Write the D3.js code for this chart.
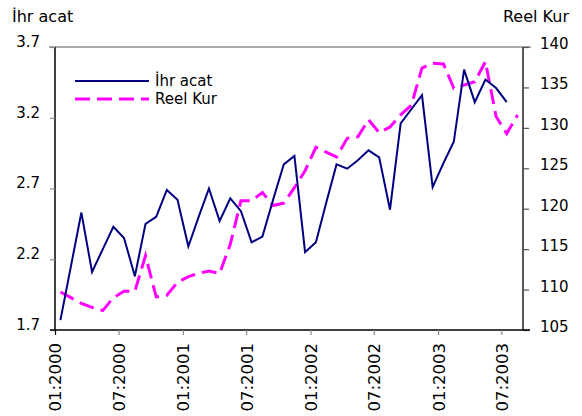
<!DOCTYPE html>
<html>
<head>
<meta charset="utf-8">
<script src="https://cdn.jsdelivr.net/npm/d3@7"></script>
<style>
  html, body { margin: 0; padding: 0; background: #fff; }
  svg { display: block; font-family: "DejaVu Sans", sans-serif; }
</style>
</head>
<body>
<svg id="chart" width="582" height="416"></svg>
<script>
// ---- data ----
const startMonth = new Date(2000, 0, 1);
const endMonth = new Date(2003, 8, 1);
const ihracat = [1.77, 2.15, 2.53, 2.11, 2.27, 2.43, 2.35, 2.08, 2.45, 2.50, 2.69, 2.62,
                 2.29, 2.50, 2.70, 2.47, 2.63, 2.54, 2.32, 2.36, 2.62, 2.87, 2.93, 2.25,
                 2.32, 2.60, 2.87, 2.84, 2.90, 2.97, 2.92, 2.55, 3.16, 3.26, 3.36, 2.71,
                 2.88, 3.03, 3.54, 3.31, 3.47, 3.41, 3.31];
const reelKur = [109.7, 109.0, 108.3, 107.8, 107.4, 109.0, 109.8, 109.8, 114.2, 109.1, 109.3, 110.9,
                 111.6, 112.0, 112.3, 112.0, 115.6, 121.0, 121.0, 122.0, 120.4, 120.7, 122.6, 124.7,
                 127.6, 127.0, 126.4, 128.7, 128.9, 131.0, 129.4, 130.1, 131.6, 132.8, 137.4, 138.0,
                 137.9, 134.9, 135.3, 135.7, 138.2, 131.4, 129.3, 131.6];
const leftTicks = [1.7, 2.2, 2.7, 3.2, 3.7];
const rightTicks = [105, 110, 115, 120, 125, 130, 135, 140];
const xTickLabels = ["01:2000", "07:2000", "01:2001", "07:2001", "01:2002", "07:2002", "01:2003", "07:2003"];
const seriesNames = ["İhr acat", "Reel Kur"];

// ---- layout ----
const L = 55, R = 523, T = 47, B = 330;
const svg = d3.select("#chart");

const months = d3.timeMonths(startMonth, endMonth);
const x = d3.scaleTime().domain([startMonth, endMonth]).range([L, R]);
const xMid = i => (x(months[i]) + x(d3.timeMonth.offset(months[i], 1))) / 2;
const yL = d3.scaleLinear().domain([1.7, 3.7]).range([B, T]);
const yR = d3.scaleLinear().domain([105, 140]).range([B, T]);

// top frame line
svg.append("line").attr("x1", 49).attr("x2", 531).attr("y1", T).attr("y2", T)
  .attr("stroke", "#8c8c8c").attr("stroke-width", 1.5);

// left axis
const gL = svg.append("g").attr("transform", `translate(${L},0)`)
  .call(d3.axisLeft(yL).tickValues(leftTicks).tickSize(5).tickFormat(d3.format(".1f")));
gL.select(".domain").attr("stroke", "#000").attr("stroke-width", 1.5).attr("d", `M0,${T}V${B}`);
gL.selectAll(".tick line").attr("stroke", "#8c8c8c").attr("stroke-width", 1.2);
gL.selectAll(".tick text").attr("x", -15).attr("dy", "-0.05em")
  .attr("font-size", 15).attr("font-family", "DejaVu Sans").attr("fill", "#000");

// right axis
const gR = svg.append("g").attr("transform", `translate(${R},0)`)
  .call(d3.axisRight(yR).tickValues(rightTicks).tickSize(6));
gR.select(".domain").attr("stroke", "#222").attr("stroke-width", 1.5).attr("d", `M0,${T}V${B}`);
gR.selectAll(".tick line").attr("stroke", "#555").attr("stroke-width", 1.2);
gR.selectAll(".tick text").attr("x", 17).attr("dy", "0.1em")
  .attr("font-size", 15).attr("font-family", "DejaVu Sans").attr("fill", "#000");

// bottom axis
const xTickDates = xTickLabels.map((s, i) => d3.timeMonth.offset(startMonth, i * 6));
const gB = svg.append("g").attr("transform", `translate(0,${B})`)
  .call(d3.axisBottom(x).tickValues(xTickDates).tickSize(5)
    .tickFormat((d, i) => xTickLabels[i]));
gB.select(".domain").attr("stroke", "#000").attr("stroke-width", 1.5).attr("d", "M50,0H530");
gB.selectAll(".tick line").attr("stroke", "#8c8c8c").attr("stroke-width", 1.2);
gB.selectAll(".tick").filter((d, i) => i === 0).select("line").attr("stroke", "#000");
gB.selectAll(".tick text")
  .attr("transform", "rotate(-90)")
  .attr("x", -13).attr("y", 0).attr("dy", "0.36em")
  .attr("text-anchor", "end")
  .attr("font-size", 16.5).attr("font-family", "DejaVu Sans").attr("fill", "#000");

// lines
const lineL = d3.line().x((d, i) => xMid(i)).y(d => yL(d));
const lineR = d3.line().x((d, i) => xMid(i)).y(d => yR(d));

svg.append("path").datum(reelKur).attr("d", lineR)
  .attr("fill", "none").attr("stroke", "#ff00ff").attr("stroke-width", 3)
  .attr("stroke-dasharray", "15,7");
svg.append("path").datum(ihracat).attr("d", lineL)
  .attr("fill", "none").attr("stroke", "#000080").attr("stroke-width", 2)
  .attr("stroke-linejoin", "miter");

// titles
svg.append("text").attr("x", 12).attr("y", 22).attr("font-size", 16).attr("fill", "#000").text(seriesNames[0]);
svg.append("text").attr("x", 569).attr("y", 22).attr("text-anchor", "end").attr("font-size", 16).attr("fill", "#000").text(seriesNames[1]);

// legend
const leg = svg.append("g");
leg.append("line").attr("x1", 75).attr("x2", 149).attr("y1", 81).attr("y2", 81)
  .attr("stroke", "#000080").attr("stroke-width", 2);
leg.append("line").attr("x1", 75).attr("x2", 149).attr("y1", 99).attr("y2", 99)
  .attr("stroke", "#ff00ff").attr("stroke-width", 3).attr("stroke-dasharray", "15,7");
leg.append("text").attr("x", 155).attr("y", 81).attr("dy", "0.36em").attr("font-size", 15).attr("fill", "#000").text(seriesNames[0]);
leg.append("text").attr("x", 155).attr("y", 99).attr("dy", "0.36em").attr("font-size", 15).attr("fill", "#000").text(seriesNames[1]);
</script>
</body>
</html>
